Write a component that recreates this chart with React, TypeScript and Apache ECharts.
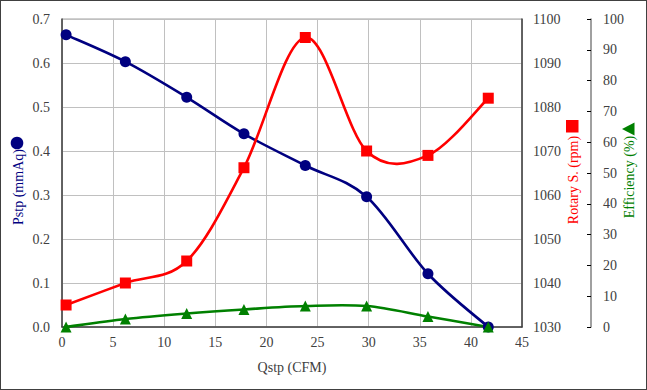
import React, { useEffect, useRef } from "react";
import * as echarts from "echarts";

const qstp = [0.4, 6.2, 12.2, 17.8, 23.8, 29.8, 35.8, 41.7];
const pstp = [0.664, 0.603, 0.522, 0.439, 0.367, 0.296, 0.121, 0.0];
const rpm = [1035, 1040, 1045, 1066.2, 1095.8, 1070, 1069, 1082];
const efficiency = [0, 2.6, 4.4, 5.7, 6.8, 6.8, 3.4, 0];

const FONT = "Liberation Serif";
const AXFONT = "'Liberation Serif', 'Times New Roman', serif";
const NAVY = "#000080";
const RED = "#ff0000";
const GREEN = "#008000";

// Catmull-Rom style smooth curve (like spreadsheet smoothing), drawn through the axes' own scales
function smoothCurve(ys: number[], yAxisIndex: number, color: string) {
  const pts = qstp.map((q, i) => [q, ys[i]]);
  return {
    type: "custom",
    yAxisIndex,
    data: pts,
    silent: true,
    z: 2,
    renderItem: (params: any, api: any) => {
      const i = params.dataIndex;
      if (i >= pts.length - 1) return { type: "group", children: [] };
      const p0 = api.coord(pts[Math.max(0, i - 1)]);
      const p1 = api.coord(pts[i]);
      const p2 = api.coord(pts[i + 1]);
      const p3 = api.coord(pts[Math.min(pts.length - 1, i + 2)]);
      const t = 1 / 6;
      return {
        type: "bezierCurve",
        shape: {
          x1: p1[0],
          y1: p1[1],
          x2: p2[0],
          y2: p2[1],
          cpx1: p1[0] + (p2[0] - p0[0]) * t,
          cpy1: p1[1] + (p2[1] - p0[1]) * t,
          cpx2: p2[0] - (p3[0] - p1[0]) * t,
          cpy2: p2[1] - (p3[1] - p1[1]) * t,
        },
        style: { stroke: color, lineWidth: 2.6, fill: null },
      };
    },
  };
}

function markers(ys: number[], yAxisIndex: number, color: string, symbol: string) {
  return {
    type: "scatter",
    yAxisIndex,
    data: qstp.map((q, i) => [q, ys[i]]),
    symbol,
    symbolSize: 11,
    itemStyle: { color, opacity: 1 },
    z: 3,
  };
}

export default function App() {
  const ref = useRef<HTMLDivElement>(null);
  useEffect(() => {
    if (!ref.current) return;
    const chart = echarts.init(ref.current, undefined, { renderer: "svg" });
    const label = { fontFamily: AXFONT, fontSize: 14, color: "#404040" };
    chart.setOption({
      animation: false,
      backgroundColor: "transparent",
      textStyle: { fontFamily: AXFONT, fontSize: 14 },
      grid: {
        left: 62,
        right: 125,
        top: 19,
        bottom: 63,
        show: true,
        borderColor: "#a0a0a0",
        borderWidth: 1,
      },
      xAxis: {
        type: "value",
        min: 0,
        max: 45,
        interval: 5,
        name: "Qstp (CFM)",
        nameLocation: "middle",
        nameGap: 33,
        nameTextStyle: { ...label },
        axisLine: { lineStyle: { color: "#404040", width: 1.5 } },
        axisTick: { show: false },
        axisLabel: { ...label, margin: 8 },
        splitLine: { show: true, lineStyle: { color: "#c0c0c0", width: 1 } },
      },
      yAxis: [
        {
          type: "value",
          min: 0,
          max: 0.7,
          interval: 0.1,
          position: "left",
          axisLine: { show: true, lineStyle: { color: "#404040", width: 1.5 } },
          axisTick: { show: false },
          axisLabel: { ...label, margin: 12, formatter: (v: number) => v.toFixed(1) },
          splitLine: { show: true, lineStyle: { color: "#c0c0c0", width: 1 } },
        },
        {
          type: "value",
          min: 1030,
          max: 1100,
          interval: 10,
          position: "right",
          axisLine: { show: true, lineStyle: { color: "#404040", width: 1.5 } },
          axisTick: { show: false },
          axisLabel: { ...label, margin: 11, formatter: (v: number) => String(v) },
          splitLine: { show: false },
        },
        {
          type: "value",
          min: 0,
          max: 100,
          interval: 10,
          position: "right",
          offset: 69,
          axisLine: { show: true, lineStyle: { color: "#808080", width: 1.5 } },
          axisTick: { show: true, inside: true, length: 4, lineStyle: { color: "#000000" } },
          axisLabel: { ...label, margin: 12, formatter: (v: number) => String(v) },
          splitLine: { show: false },
        },
      ],
      series: [
        smoothCurve(pstp, 0, NAVY),
        markers(pstp, 0, NAVY, "circle"),
        smoothCurve(rpm, 1, RED),
        markers(rpm, 1, RED, "rect"),
        smoothCurve(efficiency, 2, GREEN),
        markers(efficiency, 2, GREEN, "triangle"),
      ],
      graphic: [
        {
          type: "text",
          x: 18,
          y: 187,
          rotation: Math.PI / 2,
          style: {
            text: "Pstp (mmAq)",
            fill: NAVY,
            fontFamily: FONT,
            fontSize: 14,
            align: "center",
            verticalAlign: "middle",
          },
        },
        { type: "circle", shape: { cx: 17, cy: 143, r: 6.3 }, style: { fill: NAVY } },
        {
          type: "text",
          x: 573,
          y: 180,
          rotation: Math.PI / 2,
          style: {
            text: "Rotary S. (rpm)",
            fill: RED,
            fontFamily: FONT,
            fontSize: 14,
            align: "center",
            verticalAlign: "middle",
          },
        },
        { type: "rect", shape: { x: 566, y: 120, width: 12.5, height: 12.5 }, style: { fill: RED } },
        {
          type: "text",
          x: 629,
          y: 177,
          rotation: Math.PI / 2,
          style: {
            text: "Efficiency (%)",
            fill: GREEN,
            fontFamily: FONT,
            fontSize: 14,
            align: "center",
            verticalAlign: "middle",
          },
        },
        {
          type: "polygon",
          shape: { points: [[622, 129], [634.5, 122.5], [634.5, 135.5]] },
          style: { fill: GREEN },
        },
      ],
    });
    return () => chart.dispose();
  }, []);
  return (
    <div
      style={{
        position: "fixed",
        left: 0,
        top: 0,
        width: 647,
        height: 390,
        boxSizing: "border-box",
        border: "1.5px solid #404040",
        background: "#fff",
      }}
    >
      <div ref={ref} style={{ position: "absolute", left: -1.5, top: -1.5, width: 647, height: 390 }} />
    </div>
  );
}
